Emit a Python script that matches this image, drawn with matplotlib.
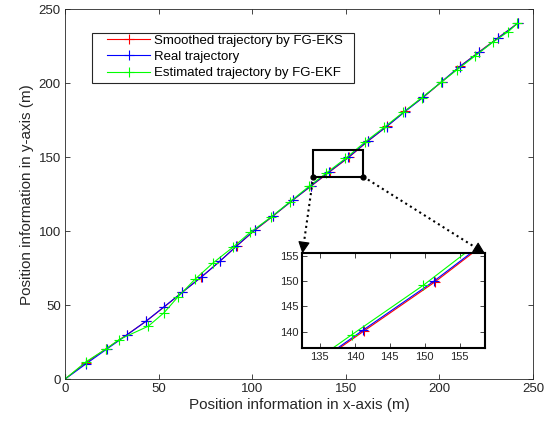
import numpy as np
import matplotlib
matplotlib.use('Agg')
import matplotlib.pyplot as plt
from matplotlib.patches import Rectangle, FancyArrowPatch
from matplotlib.lines import Line2D

plt.rcParams['font.family'] = ['Liberation Sans', 'DejaVu Sans']

# real trajectory
real_x = [0, 11.2, 22.3, 33.0, 43.3, 52.9, 62.6, 73.0, 82.8, 91.6, 101.3, 111.0, 121.8,
          131.3, 141.1, 151.3, 161.8, 171.8, 181.6, 191.3, 201.2, 210.8, 221.3, 231.3, 242.0]
real_y = [0, 10.3, 20.3, 29.8, 39.2, 48.9, 58.7, 69.2, 79.8, 90.0, 100.8, 110.3, 121.2,
          130.6, 140.2, 150.0, 161.1, 170.8, 180.9, 190.6, 201.2, 211.3, 221.2, 230.6, 240.8]

# smoothed by FG-EKS
eks_x = [0, 11.0, 22.0, 32.9, 43.4, 53.0, 62.5, 72.9, 82.7, 91.7, 101.4, 111.1, 121.7,
         131.4, 141.3, 151.5, 161.9, 171.9, 181.5, 191.4, 201.3, 210.9, 221.2, 231.2, 241.9]
eks_y = [0, 11.0, 20.5, 29.9, 39.2, 48.8, 58.6, 69.1, 79.7, 90.0, 100.7, 110.2, 121.1,
         130.5, 140.1, 149.9, 161.0, 170.9, 181.1, 190.7, 201.1, 211.4, 221.3, 230.7, 240.7]

# estimated by FG-EKF
ekf_x = [0, 11.2, 22.0, 29.0, 44.5, 52.9, 60.2, 69.4, 79.2, 89.8, 99.0, 110.0, 120.2,
         130.5, 139.6, 149.8, 160.3, 170.4, 180.6, 190.4, 200.8, 209.2, 219.0, 228.5, 236.8, 241.6]
ekf_y = [0, 11.7, 20.5, 26.8, 35.8, 44.9, 55.4, 67.5, 78.7, 89.3, 99.3, 109.5, 120.0,
         130.5, 139.4, 149.2, 160.4, 170.2, 180.4, 190.2, 200.6, 209.0, 218.5, 227.8, 235.0, 240.6]

labels = ['Smoothed trajectory by FG-EKS', 'Real trajectory', 'Estimated trajectory by FG-EKF']
zoom_box = [132.6, 159.3, 136.9, 155.1]
inset_lim = [132.5, 158.6, 136.8, 155.5]

axcol = (0.15, 0.15, 0.15)

def style(ax, fs=9):
    ax.tick_params(direction='in', top=True, right=True, length=3.5, width=0.6,
                   labelsize=fs, colors=axcol, labelcolor=axcol, pad=3)
    for s in ax.spines.values():
        s.set_color(axcol)

def draw(ax):
    ax.plot(eks_x, eks_y, '-+', color='red', lw=0.8, ms=7, mew=0.8, label=labels[0])
    ax.plot(real_x, real_y, '-+', color='blue', lw=0.8, ms=7, mew=0.8, label=labels[1])
    ax.plot(ekf_x, ekf_y, '-+', color='#00ff00', lw=0.8, ms=7, mew=0.8, label=labels[2])

fig = plt.figure(figsize=(5.6, 4.26), dpi=100)
ax = fig.add_axes([0.116, 0.110, 0.836, 0.868])
draw(ax)
ax.set_xlim(0, 250)
ax.set_ylim(0, 250)
ax.set_xticks(np.arange(0, 251, 50))
ax.set_yticks(np.arange(0, 251, 50))
style(ax, 9.5)
for s in ax.spines.values():
    s.set_linewidth(0.6)
ax.set_xlabel('Position information in x-axis (m)', fontsize=11, color=axcol, labelpad=2)
ax.set_ylabel('Position information in y-axis (m)', fontsize=11, color=axcol, labelpad=3)

# legend frame drawn separately so the padding matches
ax.add_patch(Rectangle((0.0577, 0.801), 0.5598, 0.1354, transform=ax.transAxes,
                       fc='white', ec=axcol, lw=0.8, zorder=4))
leg = ax.legend(loc='upper left', bbox_to_anchor=(0.0897, 0.932), borderaxespad=0,
                borderpad=0, fontsize=9.5, frameon=False,
                handlelength=3.3, handletextpad=0.25, labelspacing=0.3)
leg.set_zorder(5)

x0, x1, y0, y1 = zoom_box
ax.add_patch(Rectangle((x0, y0), x1 - x0, y1 - y0, fill=False, ec='k', lw=1.5, zorder=5))
ax.plot([x0, x1], [y0, y0], 'o', color='k', ms=3.5, zorder=6)

axins = fig.add_axes([0.540, 0.184, 0.326, 0.221])
draw(axins)
axins.set_xlim(inset_lim[0], inset_lim[1])
axins.set_ylim(inset_lim[2], inset_lim[3])
axins.set_xticks([135, 140, 145, 150, 155])
axins.set_yticks([140, 145, 150, 155])
style(axins, 8)
for s in axins.spines.values():
    s.set_linewidth(1.5)
    s.set_color('k')

# dotted connectors with solid arrow heads
inv = fig.transFigure.inverted()
for xa, xb in [(x0, 0), (x1, 1)]:
    pa = ax.transData.transform((xa, y0))
    pb = axins.transAxes.transform((xb, 1))
    d = (pb - pa) / np.hypot(*(pb - pa))
    pm = pb - d * 11
    fa, fm, fb = inv.transform(pa), inv.transform(pm), inv.transform(pb)
    fig.add_artist(Line2D([fa[0], fm[0]], [fa[1], fm[1]], ls=':', lw=1.5, color='k'))
    fig.add_artist(FancyArrowPatch(fm, fb, transform=fig.transFigure,
                                   arrowstyle='-|>', mutation_scale=18, lw=0.8,
                                   color='k', shrinkA=0, shrinkB=0))

fig.savefig('out.png', dpi=100)
